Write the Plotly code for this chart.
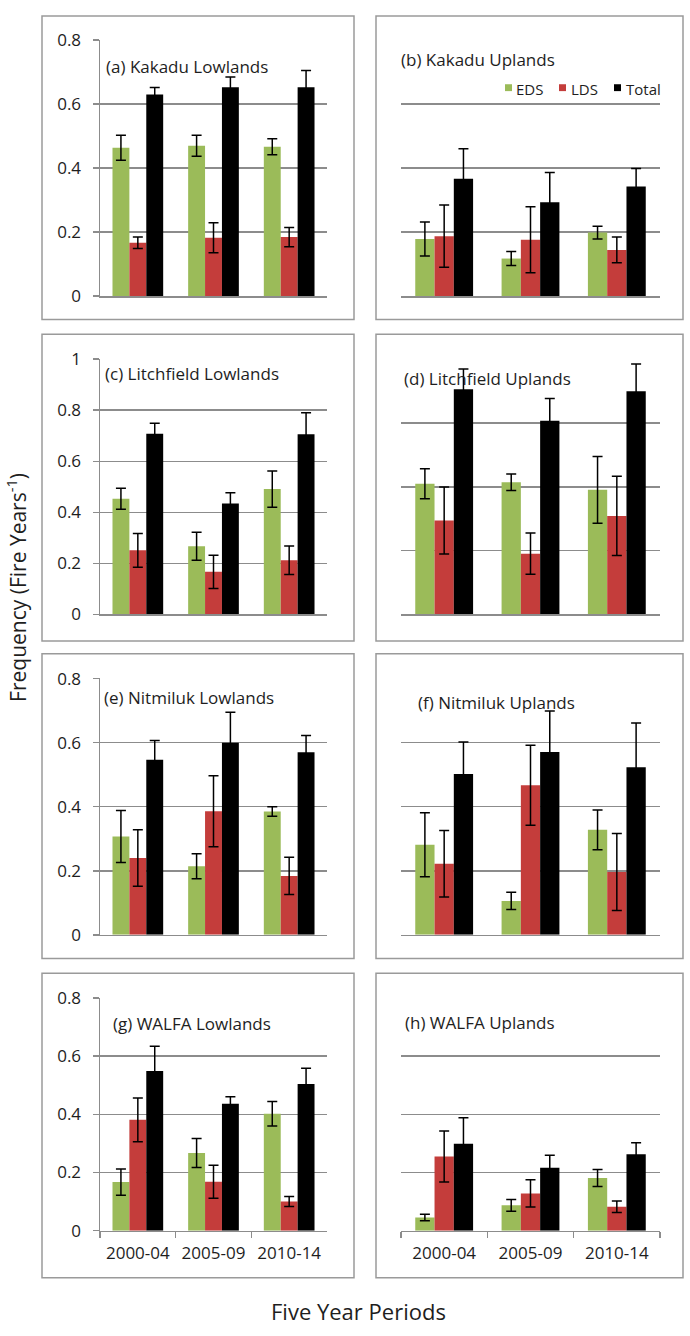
import plotly.graph_objects as go

W, H = 690, 1336

# ---------------- data ----------------
periods = ["2000-04", "2005-09", "2010-14"]
series_names = ["EDS", "LDS", "Total"]
series_colors = ["#9BBB59", "#C43D3B", "#000000"]
panel_titles = [
    "(a) Kakadu Lowlands", "(b) Kakadu Uplands",
    "(c) Litchfield Lowlands", "(d) Litchfield Uplands",
    "(e) Nitmiluk Lowlands", "(f) Nitmiluk Uplands",
    "(g) WALFA Lowlands", "(h) WALFA Uplands",
]

eds_mean = [
    [0.463, 0.469, 0.466], [0.178, 0.117, 0.198],
    [0.453, 0.267, 0.491], [0.512, 0.518, 0.488],
    [0.307, 0.214, 0.385], [0.281, 0.106, 0.328],
    [0.167, 0.267, 0.402], [0.045, 0.087, 0.181],
]
eds_err = [
    [0.039, 0.033, 0.025], [0.053, 0.022, 0.020],
    [0.041, 0.055, 0.071], [0.059, 0.032, 0.131],
    [0.081, 0.039, 0.015], [0.100, 0.027, 0.062],
    [0.045, 0.050, 0.042], [0.011, 0.020, 0.029],
]
lds_mean = [
    [0.166, 0.182, 0.184], [0.187, 0.176, 0.144],
    [0.251, 0.167, 0.212], [0.368, 0.238, 0.386],
    [0.240, 0.386, 0.184], [0.222, 0.467, 0.196],
    [0.381, 0.168, 0.100], [0.255, 0.128, 0.082],
]
lds_err = [
    [0.018, 0.047, 0.030], [0.097, 0.103, 0.040],
    [0.066, 0.065, 0.056], [0.131, 0.081, 0.155],
    [0.088, 0.111, 0.058], [0.104, 0.125, 0.120],
    [0.075, 0.057, 0.017], [0.088, 0.047, 0.020],
]
total_mean = [
    [0.629, 0.652, 0.652], [0.366, 0.293, 0.342],
    [0.708, 0.435, 0.706], [0.882, 0.759, 0.874],
    [0.547, 0.600, 0.570], [0.502, 0.571, 0.523],
    [0.549, 0.436, 0.504], [0.299, 0.216, 0.263],
]
total_err = [
    [0.022, 0.032, 0.052], [0.094, 0.093, 0.056],
    [0.041, 0.042, 0.084], [0.080, 0.087, 0.107],
    [0.060, 0.095, 0.052], [0.100, 0.128, 0.138],
    [0.085, 0.024, 0.054], [0.089, 0.043, 0.039],
]
y_max = [0.8, 0.8, 1.0, 1.0, 0.8, 0.8, 0.8, 0.8]
y_dtick = [0.2, 0.2, 0.2, 0.25, 0.2, 0.2, 0.2, 0.2]

y_title = "Frequency (Fire Years<sup>-1</sup>)"
x_title = "Five Year Periods"

# ---------------- layout geometry (pixels) ----------------
col_x = [(100, 327), (401, 660)]
row_y = [(28, 289), (353, 613), (678, 939), (1003, 1240)]
box_x = [(42, 354), (376, 683)]
box_y = [(4, 313), (328, 640), (653, 963), (978, 1288)]
title_pos = [(104, 54), (399, 47), (103, 367), (402, 372),
             (102, 697), (416, 702), (111, 1028), (403, 1027)]

FONT = "Open Sans"
TXT = "#1e1e1e"
GRID = "#8c8c8c"
BOX = "#9a9a9a"


def px(x):
    return x / W


def py(y):
    return 1 - y / H


fig = go.Figure()
means = [eds_mean, lds_mean, total_mean]
errs = [eds_err, lds_err, total_err]

layout = {}
shapes = []
annotations = []

for k in range(8):
    r, c = divmod(k, 2)
    ax = "" if k == 0 else str(k + 1)
    for s in range(3):
        fig.add_trace(go.Bar(
            x=periods, y=means[s][k],
            name=series_names[s],
            marker=dict(color=series_colors[s], line=dict(width=0)),
            error_y=dict(type="data", array=errs[s][k], color="#000000",
                         thickness=1.5, width=5, visible=True),
            xaxis="x" + ax, yaxis="y" + ax,
            showlegend=False,
        ))
    bottom = (r == 3)
    left = (c == 0)
    layout["xaxis" + ax] = dict(
        domain=[px(col_x[c][0]), px(col_x[c][1])],
        anchor="y" + ax, type="category",
        showgrid=False, zeroline=False,
        showline=True, linecolor=GRID, linewidth=1.5,
        ticks="outside" if bottom else "", tickson="boundaries",
        ticklen=6, tickcolor=GRID, tickwidth=1.5,
        showticklabels=bottom,
        tickfont=dict(family=FONT, size=17, color=TXT),
        ticklabelstandoff=6,
        fixedrange=True,
    )
    layout["yaxis" + ax] = dict(
        domain=[py(row_y[r][1]), py(row_y[r][0])],
        anchor="x" + ax,
        range=[0, y_max[k] * 1.001],
        tick0=0, dtick=y_dtick[k],
        showgrid=True, gridcolor=GRID, gridwidth=1.5,
        zeroline=False,
        showline=left, linecolor=GRID, linewidth=1.5,
        ticks="outside" if left else "", ticklen=6, tickcolor=GRID, tickwidth=1.5,
        showticklabels=left,
        tickfont=dict(family=FONT, size=17, color=TXT),
        ticklabelstandoff=8,
        fixedrange=True,
    )
    # panel frame
    shapes.append(dict(
        type="rect", xref="paper", yref="paper",
        x0=px(box_x[c][0]), x1=px(box_x[c][1]),
        y0=py(box_y[r][1]), y1=py(box_y[r][0]),
        line=dict(color=BOX, width=1.5), fillcolor="rgba(0,0,0,0)", layer="below",
    ))
    tx, ty = title_pos[k]
    annotations.append(dict(
        text=panel_titles[k], xref="paper", yref="paper",
        x=px(tx), y=py(ty + 1), xanchor="left", yanchor="middle",
        showarrow=False, font=dict(family=FONT, size=17, color=TXT),
    ))

# legend (in panel b)
leg_sq = [(505, 512), (559, 566), (614, 621)]
leg_tx = [514, 569, 624]
leg_y = 77
for s in range(3):
    shapes.append(dict(
        type="rect", xref="paper", yref="paper",
        x0=px(leg_sq[s][0]), x1=px(leg_sq[s][1]),
        y0=py(leg_y + 3.5), y1=py(leg_y - 3.5),
        line=dict(width=0), fillcolor=series_colors[s],
    ))
    annotations.append(dict(
        text=series_names[s], xref="paper", yref="paper",
        x=px(leg_tx[s]), y=py(leg_y + 1), xanchor="left", yanchor="middle",
        showarrow=False, font=dict(family=FONT, size=15, color=TXT),
    ))

# axis titles
annotations.append(dict(
    text=y_title, xref="paper", yref="paper", x=px(17), y=py(586),
    xanchor="center", yanchor="middle", textangle=-90, showarrow=False,
    font=dict(family=FONT, size=21, color=TXT),
))
annotations.append(dict(
    text=x_title, xref="paper", yref="paper", x=px(359), y=py(1322),
    xanchor="center", yanchor="middle", showarrow=False,
    font=dict(family=FONT, size=22, color=TXT),
))

fig.update_layout(
    width=W, height=H,
    margin=dict(l=0, r=0, t=0, b=0),
    paper_bgcolor="white", plot_bgcolor="white",
    barmode="group", bargap=0.33, bargroupgap=0,
    showlegend=False,
    shapes=shapes, annotations=annotations,
    font=dict(family=FONT, color=TXT),
    **layout,
)

fig.write_html(
    "out.html",
    config={"displayModeBar": False, "staticPlot": True},
    post_script="document.body.style.margin='0';document.body.style.padding='0';"
                "document.documentElement.style.overflow='hidden';",
)
